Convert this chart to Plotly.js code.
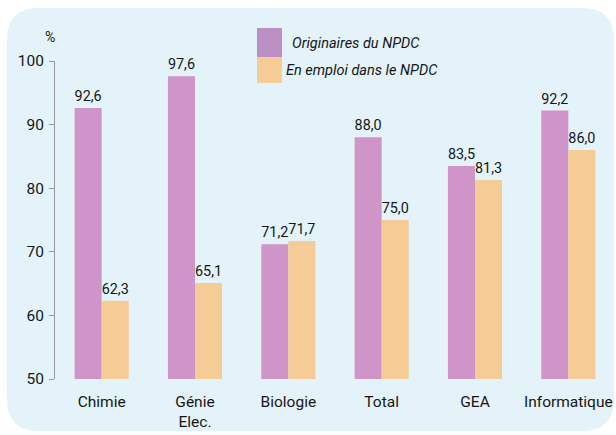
<!DOCTYPE html>
<html><head><meta charset="utf-8">
<script src="https://cdn.plot.ly/plotly-3.0.1.min.js"></script>
<style>html,body{margin:0;padding:0;background:#fff}#c{width:616px;height:435px}</style>
</head><body><div id="c"></div>
<script>
const categories = ["Chimie", "Génie<br>Elec.", "Biologie", "Total", "GEA", "Informatique"];
const seriesNames = ["Originaires du NPDC", "En emploi dans le NPDC"];
const originaires = [92.6, 97.6, 71.2, 88.0, 83.5, 92.2];
const enEmploi = [62.3, 65.1, 71.7, 75.0, 81.3, 86.0];
const yTicks = [50, 60, 70, 80, 90, 100];

const FONT = "Roboto, 'Liberation Sans', Arial, sans-serif";
const colors = ["#cf95c8", "#f5cb96"];
const legendColors = ["#bb8ec4", "#f5cb96"];
const TXT = "#161616";
const fmt = v => v.toFixed(1).replace(".", ",");

// plot area in pixels
const L = 55, R = 615, T = 61, B = 379;
const px = x => (x - L) / (R - L);
const py = y => (B - y) / (B - T);

function mk(vals, i) {
  return {
    type: "bar", x: categories, y: vals, name: seriesNames[i],
    marker: {color: colors[i], line: {width: 0}},
    text: vals.map(fmt), textposition: "outside", cliponaxis: false,
    textfont: {family: FONT, size: 15, color: TXT},
    hoverinfo: "x+y"
  };
}

// background panel with rounded corners
const x0 = px(7), x1 = px(614), y0 = py(8), y1 = py(431);
const rx = 32 / (R - L), ry = 32 / (B - T);
const panel = `M ${x0} ${y0 - ry} Q ${x0} ${y0} ${x0 + rx} ${y0} L ${x1 - rx} ${y0} Q ${x1} ${y0} ${x1} ${y0 - ry} L ${x1} ${y1 + ry} Q ${x1} ${y1} ${x1 - rx} ${y1} L ${x0 + rx} ${y1} Q ${x0} ${y1} ${x0} ${y1 + ry} Z`;

const shapes = [
  {type: "path", xref: "paper", yref: "paper", path: panel, fillcolor: "#e3f3f9", line: {width: 0}, layer: "below"},
  {type: "rect", xref: "paper", yref: "paper", x0: px(257), x1: px(282), y0: py(28), y1: py(57), fillcolor: legendColors[0], line: {width: 0}},
  {type: "rect", xref: "paper", yref: "paper", x0: px(257), x1: px(282), y0: py(57), y1: py(83), fillcolor: legendColors[1], line: {width: 0}}
];
const annotations = [
  {xref: "paper", yref: "paper", x: px(290), y: py(43), xanchor: "left", yanchor: "middle", showarrow: false,
   text: "<i>" + seriesNames[0] + "</i>", font: {family: FONT, size: 14.5, color: TXT}},
  {xref: "paper", yref: "paper", x: px(284), y: py(70), xanchor: "left", yanchor: "middle", showarrow: false,
   text: "<i>" + seriesNames[1] + "</i>", font: {family: FONT, size: 14.5, color: TXT}},
  {xref: "paper", yref: "paper", x: px(50), y: py(37), xanchor: "center", yanchor: "middle", showarrow: false,
   text: "%", font: {family: FONT, size: 14, color: TXT}}
];

Plotly.newPlot("c", [mk(originaires, 0), mk(enEmploi, 1)], {
  width: 616, height: 435,
  margin: {l: L, r: 616 - R, t: T, b: 435 - B},
  paper_bgcolor: "#ffffff", plot_bgcolor: "rgba(0,0,0,0)",
  barmode: "group", bargap: 0.42, bargroupgap: 0,
  showlegend: false,
  font: {family: FONT, size: 15.5, color: TXT},
  xaxis: {showline: false, ticks: "", showgrid: false, zeroline: false,
          tickfont: {family: FONT, size: 15.5, color: TXT}, ticklabelstandoff: 11, range: [-0.5, 5.5]},
  yaxis: {range: [50, 100], tickvals: yTicks, ticktext: yTicks.map(String), showgrid: false, zeroline: false,
          showline: true, linecolor: "#9a9a9a", linewidth: 1, ticks: "outside", ticklen: 5, tickcolor: "#9a9a9a",
          ticklabelstandoff: 2,
          tickfont: {family: FONT, size: 15.5, color: TXT}},
  shapes: shapes, annotations: annotations
}, {displayModeBar: false, staticPlot: true});
</script></body></html>
